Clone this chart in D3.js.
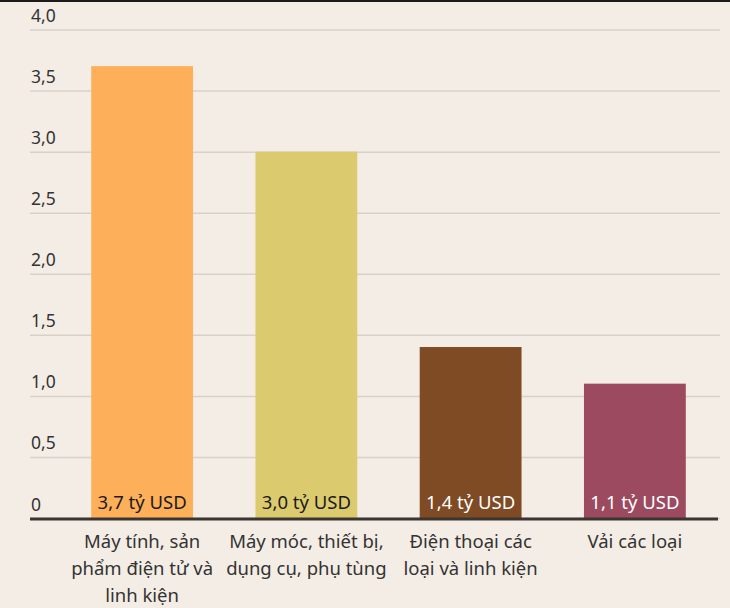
<!DOCTYPE html>
<html>
<head>
<meta charset="utf-8">
<script src="https://cdn.jsdelivr.net/npm/d3@7"></script>
<style>
  html, body { margin: 0; padding: 0; background: #F3EDE5; }
  svg { display: block; font-family: "Noto Sans", sans-serif; }
</style>
</head>
<body>
<svg width="730" height="608"></svg>
<script>
var categories = [
  'Máy tính, sản\nphẩm điện tử và\nlinh kiện',
  'Máy móc, thiết bị,\ndụng cụ, phụ tùng',
  'Điện thoại các\nloại và linh kiện',
  'Vải các loại'
];
var values = [3.7, 3.0, 1.4, 1.1];
var valueLabels = ['3,7 tỷ USD', '3,0 tỷ USD', '1,4 tỷ USD', '1,1 tỷ USD'];
var barColors = ['#FEAF5A', '#DCCB6E', '#7E4B24', '#9C4A5F'];
var labelColors = ['#1a1a1a', '#1a1a1a', '#ffffff', '#ffffff'];
var tickValues = [0, 0.5, 1, 1.5, 2, 2.5, 3, 3.5, 4];
var tickLabels = ['0', '0,5', '1,0', '1,5', '2,0', '2,5', '3,0', '3,5', '4,0'];

var svg = d3.select('svg');

var gridLeft = 30,
  gridRight = 720,
  y0 = 518,
  yTop = 29.5;

// top border
svg.append('rect')
  .attr('x', 0).attr('y', 0)
  .attr('width', 730).attr('height', 2)
  .attr('fill', '#1b1a18');

var x = d3.scaleBand()
  .domain(d3.range(categories.length))
  .range([60, 717])
  .paddingInner(0.38)
  .paddingOuter(0.19);

var y = d3.scaleLinear()
  .domain([0, 4])
  .range([y0, yTop]);

// gridlines + tick labels
var axis = svg.append('g')
  .attr('transform', 'translate(' + gridLeft + ',0)')
  .call(d3.axisRight(y)
    .tickValues(tickValues)
    .tickSize(gridRight - gridLeft)
    .tickFormat(function(d, i) { return tickLabels[i]; }));

axis.select('.domain').remove();
axis.selectAll('.tick line')
  .attr('stroke', '#D7D1C9')
  .attr('stroke-width', 1.5);
axis.selectAll('.tick text')
  .attr('x', 1)
  .attr('y', -8)
  .attr('dy', 0)
  .attr('text-anchor', 'start')
  .attr('fill', '#333')
  .style('font-size', '17.5px')
  .style('font-family', '"Noto Sans", sans-serif');

// bars
svg.selectAll('.bar')
  .data(values)
  .enter().append('rect')
  .attr('class', 'bar')
  .attr('x', function(d, i) { return x(i); })
  .attr('y', function(d) { return y(d); })
  .attr('width', x.bandwidth())
  .attr('height', function(d) { return y(0) - y(d); })
  .attr('fill', function(d, i) { return barColors[i]; });

// value labels
svg.selectAll('.value-label')
  .data(valueLabels)
  .enter().append('text')
  .attr('class', 'value-label')
  .attr('x', function(d, i) { return x(i) + x.bandwidth() / 2; })
  .attr('y', y(0) - 9)
  .attr('text-anchor', 'middle')
  .attr('fill', function(d, i) { return labelColors[i]; })
  .style('font-size', '18.5px')
  .text(function(d) { return d; });

// baseline
svg.append('line')
  .attr('x1', gridLeft).attr('x2', 718)
  .attr('y1', y(0) + 1).attr('y2', y(0) + 1)
  .attr('stroke', '#3b3430')
  .attr('stroke-width', 3);

// category labels
var cat = svg.selectAll('.cat-label')
  .data(categories)
  .enter().append('text')
  .attr('class', 'cat-label')
  .attr('text-anchor', 'middle')
  .attr('fill', '#333')
  .style('font-size', '18.5px');

cat.selectAll('tspan')
  .data(function(d, i) {
    return d.split('\n').map(function(line) { return { line: line, i: i }; });
  })
  .enter().append('tspan')
  .attr('x', function(d) { return x(d.i) + x.bandwidth() / 2; })
  .attr('y', function(d, j) { return 548 + j * 27; })
  .text(function(d) { return d.line; });
</script>
</body>
</html>
